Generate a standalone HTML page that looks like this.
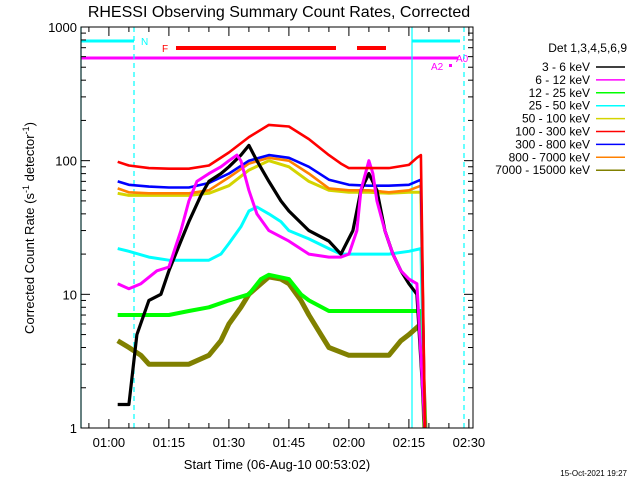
<!DOCTYPE html>
<html><head><meta charset="utf-8"><style>
body{margin:0;background:#fff}
svg text{font-family:"Liberation Sans",sans-serif}
</style></head><body>
<svg id="chart" width="640" height="480" viewBox="0 0 640 480" xmlns="http://www.w3.org/2000/svg">
<rect width="640" height="480" fill="#fff"/>
<text x="279" y="17" font-size="16" text-anchor="middle">RHESSI Observing Summary Count Rates, Corrected</text>
<g id="plot"></g>
<g id="axes"></g>
<text transform="translate(34,228) rotate(-90)" font-size="13" text-anchor="middle">Corrected Count Rate (s<tspan baseline-shift="super" font-size="9">-1</tspan> detector<tspan baseline-shift="super" font-size="9">-1</tspan>)</text>
<text x="277" y="469" font-size="13" text-anchor="middle">Start Time (06-Aug-10 00:53:02)</text>
<text x="627" y="476" font-size="8" text-anchor="end">15-Oct-2021 19:27</text>
<g id="legend"></g>
</svg>
<script>
const NS="http://www.w3.org/2000/svg";
// minutes since 01:00
const tRed=[2.2,5,10,15,20,25,30,35,40,45,50,55,58,60,65,70,75,77,78];
const vRed=[98,92,88,87,87,92,115,150,185,180,145,110,95,88,88,88,93,105,110];
const tBlue=[2.2,5,10,15,20,25,30,35,40,45,50,55,60,65,70,75,78];
const vBlue=[70,66,64,63,63,68,80,100,110,105,90,72,66,65,65,66,72];
const tOrange=[2.2,5,10,15,20,25,30,35,40,45,50,55,60,65,70,75,78];
const vOrange=[62,58,57,57,57,60,75,95,105,100,80,62,60,60,58,60,65];
const tYellow=[2.2,5,10,15,20,25,30,35,40,45,50,55,60,65,70,75,78];
const vYellow=[57,55,55,55,55,57,65,85,100,90,70,60,58,58,57,58,58];
const tBlack=[2.2,5,7,10,13,15,18,20,23,25,28,30,33,35,37,40,43,45,50,55,58,61,63,65,67,69,71,73,75,77];
const vBlack=[1.5,1.5,5,9,10,15,25,35,55,70,80,90,110,130,100,70,50,42,30,25,20,30,60,80,60,30,20,15,12,10];
const tMag=[2.2,5,8,12,15,18,20,22,25,28,30,32,33,35,37,40,45,50,55,58,60,62,63,65,66,67,69,71,73,75,77];
const vMag=[12,11,12,15,16,30,50,70,80,90,100,110,100,60,40,30,25,20,19,19,20,30,60,100,80,50,30,20,15,13,12];
const tCyan=[2.2,5,10,15,20,25,28,30,33,35,37,40,43,45,50,55,58,60,65,70,75,78];
const vCyan=[22,21,19,18,18,18,20,24,32,42,45,40,35,30,26,22,20,20,20,20,21,22];
const tGreen=[2.2,5,10,15,20,25,30,35,38,40,45,48,50,55,60,65,70,75,78];
const vGreen=[7,7,7,7,7.5,8,9,10,13,14,13,10,9,7.5,7.5,7.5,7.5,7.5,7.5];
const tOlive=[2.2,5,8,10,15,20,25,28,30,33,35,38,40,43,45,48,50,53,55,60,65,70,73,75,78];
const vOlive=[4.5,4,3.5,3,3,3,3.5,4.5,6,8,10,12,13.5,13,12,9,7,5,4,3.5,3.5,3.5,4.5,5,6];
const legendLabels=["3 - 6 keV","6 - 12 keV","12 - 25 keV","25 - 50 keV","50 - 100 keV","100 - 300 keV","300 - 800 keV","800 - 7000 keV","7000 - 15000 keV"];
const legendColors=["#000","#ff00ff","#00ff00","#00ffff","#d4d400","#ff0000","#0000ff","#ff8000","#808000"];
const xTickLabels=["01:00","01:15","01:30","01:45","02:00","02:15","02:30"];
const yTickVals=[1,10,100,1000];

const X0=81,X1=473,Y0=27,Y1=428;
const xs=m=>108.9+4*m;
const ys=v=>428-133.67*Math.log10(v);
const plot=document.getElementById('plot'),axes=document.getElementById('axes'),leg=document.getElementById('legend');
function mk(tag,a,parent){const e=document.createElementNS(NS,tag);for(const k in a)e.setAttribute(k,a[k]);parent.appendChild(e);return e;}

let e;
e=mk('line',{x1:81,y1:41,x2:134,y2:41,stroke:'#00ffff','stroke-width':3},plot);


e=mk('line',{x1:412,y1:41,x2:460,y2:41,stroke:'#00ffff','stroke-width':3},plot);


e=mk('line',{x1:176,y1:48,x2:336,y2:48,stroke:'#ff0000','stroke-width':4},plot);


e=mk('line',{x1:357,y1:48,x2:386,y2:48,stroke:'#ff0000','stroke-width':4},plot);


e=mk('line',{x1:81,y1:58,x2:458,y2:58,stroke:'#ff00ff','stroke-width':3},plot);


e=mk('rect',{x:449,y:64,width:3,height:3,fill:'#ff00ff'},plot);


[['N',141,45,'#00ffff','night-label'],['F',162,52,'#ff0000','flare-label'],['A0',456,62,'#ff00ff','a0-label'],['A2',431,70,'#ff00ff','a2-label']].forEach(d=>{
 e=mk('text',{x:d[1],y:d[2],fill:d[3],'font-size':10},plot);e.textContent=d[0];
 
 
});
[[81,''],[412,''],[134,'5,4'],[464,'5,4']].forEach((d,i)=>{
 e=mk('line',{x1:d[0],y1:Y0,x2:d[0],y2:Y1,stroke:'#00ffff','stroke-width':1.2,'stroke-dasharray':d[1]},plot);
 
 
});

const widths=[3.2,3,4,3,3,2.6,2.6,2.6,5];
const series=[[tOlive,vOlive,8],[tGreen,vGreen,2],[tCyan,vCyan,3],[tYellow,vYellow,4],[tOrange,vOrange,7],[tBlue,vBlue,6],[tBlack,vBlack,0],[tMag,vMag,1],[tRed,vRed,5]];
series.forEach(s=>{
 const [t,v,ci]=s;
 let d='';
 for(let i=0;i<t.length;i++){d+=(i?' L':'M')+xs(t[i]).toFixed(1)+','+ys(v[i]).toFixed(1);}
 d+=' L'+xs(79).toFixed(1)+','+ys(1).toFixed(1);
 e=mk('path',{d:d,fill:'none',stroke:legendColors[ci],'stroke-width':widths[ci],'stroke-linejoin':'round'},plot);
 
 
});

e=mk('rect',{x:X0,y:Y0,width:X1-X0,height:Y1-Y0,fill:'none',stroke:'#000','stroke-width':1},axes);


yTickVals.forEach(v=>{
 const y=ys(v);
 mk('line',{x1:X0,y1:y,x2:X0+9,y2:y,stroke:'#000'},axes);
 mk('line',{x1:X1,y1:y,x2:X1-9,y2:y,stroke:'#000'},axes);
 e=mk('text',{x:77,y:y+5,'font-size':13,'text-anchor':'end'},axes);e.textContent=v;
 
 
 if(v<1000)for(let k=2;k<10;k++){const yy=ys(v*k);
  mk('line',{x1:X0,y1:yy,x2:X0+5,y2:yy,stroke:'#000'},axes);
  mk('line',{x1:X1,y1:yy,x2:X1-5,y2:yy,stroke:'#000'},axes);}
});
for(let m=-5;m<=90;m+=5){const x=xs(m);if(x<X0||x>X1)continue;const L=(m%15===0)?9:5;
 mk('line',{x1:x,y1:Y1,x2:x,y2:Y1-L,stroke:'#000'},axes);mk('line',{x1:x,y1:Y0,x2:x,y2:Y0+L,stroke:'#000'},axes);}
xTickLabels.forEach((l,i)=>{
 e=mk('text',{x:xs(i*15),y:447,'font-size':13,'text-anchor':'middle'},axes);e.textContent=l;
 
 
});
e=mk('text',{x:627,y:52,'font-size':12,'text-anchor':'end'},leg);e.textContent='Det 1,3,4,5,6,9';


legendLabels.forEach((l,i)=>{const y=67+i*12.9;
 e=mk('text',{x:590,y:y+4,'font-size':12,'text-anchor':'end'},leg);e.textContent=l;
 
 
 mk('line',{x1:596,y1:y,x2:625,y2:y,stroke:legendColors[i],'stroke-width':1.5},leg);
});
</script>
</body></html>
